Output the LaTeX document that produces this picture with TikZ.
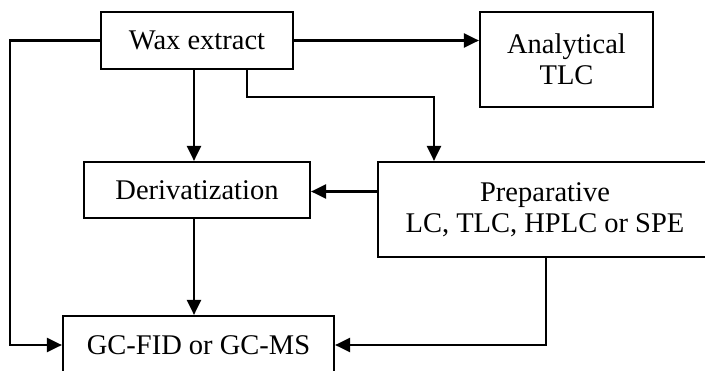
\documentclass[tikz,border=0pt]{standalone}
\usepackage{fontspec}
\setmainfont{Liberation Serif}
\usetikzlibrary{arrows.meta}
\tikzset{
  box/.style={draw, line width=2.2pt, inner sep=0pt, align=center, font=\fontsize{28.5}{31}\selectfont},
  conn/.style={line width=2.2pt, -{Triangle[length=15pt,width=14pt]}}
}
\begin{document}
\begin{tikzpicture}[x=1pt,y=-1pt]
\useasboundingbox (0,0) rectangle (705,370);
\clip (0,0) rectangle (705,370);
\node[box, minimum width=192pt, minimum height=57pt] (wax) at (197,40.5) {Wax extract};
\node[box, minimum width=173pt, minimum height=95pt] (tlc) at (566.5,59.5) {Analytical\\TLC};
\node[box, minimum width=226pt, minimum height=56pt] (der) at (197,190) {Derivatization};
\node[box, minimum width=334pt, minimum height=95pt] (prep) at (545,209.5) {Preparative\\LC, TLC, HPLC or SPE};
\node[box, minimum width=271pt, minimum height=58pt] (gc) at (198.5,345) {GC-FID or GC-MS};
\coordinate (c1) at (10,40.5);
\coordinate (c2) at (10,345);
\coordinate (c3) at (247,97);
\coordinate (c4) at (434,97);
\coordinate (c5) at (546,345);
\draw[conn] (wax.west) -- (c1) -- (c2) -- (c2 -| gc.west);
\draw[conn] (wax.east) -- (wax.east -| tlc.west);
\draw[conn] (wax.south -| 194,0) -- (der.north -| 194,0);
\draw[conn] (wax.south -| c3) -- (c3) -- (c4) -- (c4 |- prep.north);
\draw[conn] (prep.west |- 0,191.5) -- (der.east |- 0,191.5);
\draw[conn] (der.south -| 194,0) -- (gc.north -| 194,0);
\draw[conn] (prep.south -| c5) -- (c5) -- (c5 -| gc.east);
\end{tikzpicture}
\end{document}
